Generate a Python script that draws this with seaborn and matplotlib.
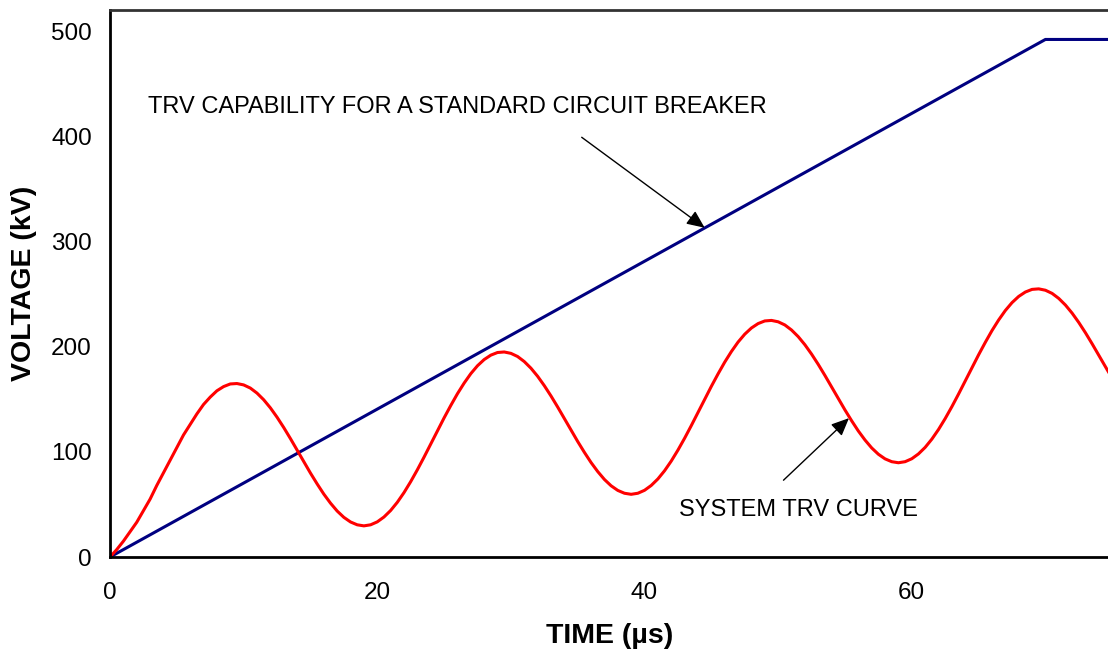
import matplotlib
matplotlib.use("Agg")
import matplotlib.pyplot as plt
import seaborn as sns
import pandas as pd

time_us = [i * 0.5 for i in range(151)]
system_trv_kv = [
    # 0 .. 19.5 µs
    0, 7, 15, 24, 33, 44, 55, 68, 80, 92,
    104, 116, 126, 136, 145, 152, 158, 162, 164.5, 164.9,
    163.6, 160.6, 155.8, 149.5, 141.8, 132.9, 123.1, 112.6, 101.7, 90.7,
    79.8, 69.5, 59.8, 51.2, 43.7, 37.7, 33.3, 30.6, 29.6, 30.6,
    # 20 .. 39.5 µs
    33.4, 38.0, 44.2, 52.0, 61.2, 71.6, 82.9, 94.9, 107.3, 119.8,
    132.2, 144.0, 155.2, 165.3, 174.3, 181.8, 187.7, 191.9, 194.4, 194.9,
    193.6, 190.6, 185.8, 179.5, 171.8, 162.9, 153.1, 142.6, 131.7, 120.7,
    109.8, 99.5, 89.8, 81.2, 73.7, 67.7, 63.3, 60.6, 59.6, 60.6,
    # 40 .. 59.5 µs
    63.4, 68.0, 74.2, 82.0, 91.2, 101.6, 112.9, 124.9, 137.3, 149.8,
    162.2, 174.0, 185.2, 195.3, 204.3, 211.8, 217.7, 221.9, 224.4, 224.9,
    223.6, 220.6, 215.8, 209.5, 201.8, 192.9, 183.1, 172.6, 161.7, 150.7,
    139.8, 129.5, 119.8, 111.2, 103.7, 97.7, 93.3, 90.6, 89.6, 90.6,
    # 60 .. 75 µs
    93.4, 98.0, 104.2, 112.0, 121.2, 131.6, 142.9, 154.9, 167.3, 179.8,
    192.2, 204.0, 215.2, 225.3, 234.3, 241.8, 247.7, 251.9, 254.4, 254.9,
    253.6, 250.6, 245.8, 239.5, 231.8, 222.9, 213.1, 202.6, 191.7, 180.7,
    169.8,
]
capability_time_us = [0, 70, 75]
capability_kv = [0, 492, 492]

x_ticks = [0, 20, 40, 60]
y_ticks = [0, 100, 200, 300, 400, 500]
x_label = "TIME (µs)"
y_label = "VOLTAGE (kV)"
capability_text = "TRV CAPABILITY FOR A STANDARD CIRCUIT BREAKER"
system_text = "SYSTEM TRV CURVE"

sns.set_theme(style="white")
plt.rcParams["font.family"] = ["Liberation Sans", "DejaVu Sans"]

df_sys = pd.DataFrame({"t": time_us, "v": system_trv_kv})
df_cap = pd.DataFrame({"t": capability_time_us, "v": capability_kv})

fig = plt.figure(figsize=(11.08, 6.58), dpi=100)
ax = fig.add_axes([110 / 1108, 101 / 658, 1 - 110 / 1108 + 0.002, (557 - 10) / 658])

sns.lineplot(data=df_cap, x="t", y="v", ax=ax, color="#000080", linewidth=2.2,
             estimator=None, sort=False)
sns.lineplot(data=df_sys, x="t", y="v", ax=ax, color="#ff0000", linewidth=2.2,
             estimator=None, sort=False)

ax.set_xlim(0, 74.85)
ax.set_ylim(0, 520)
ax.set_xticks(x_ticks)
ax.set_yticks(y_ticks)
ax.tick_params(axis="both", direction="out", length=5, width=1.8, color="black",
               labelsize=17.5, labelcolor="black")
ax.tick_params(axis="y", pad=8)
ax.tick_params(axis="x", pad=13)

for side in ["left", "bottom"]:
    ax.spines[side].set_color("black")
    ax.spines[side].set_linewidth(2.0)
ax.spines["top"].set_color("#333333")
ax.spines["top"].set_linewidth(2.0)
ax.spines["right"].set_visible(False)

ax.set_xlabel(x_label, fontsize=20.5, fontweight="bold", color="black", labelpad=14)
ax.set_ylabel(y_label, fontsize=20.5, fontweight="bold", color="black", labelpad=10)

ax.annotate("", xy=(44.5, 313), xytext=(35.3, 399),
            arrowprops=dict(arrowstyle="-|>,head_length=0.9,head_width=0.4",
                            color="black", lw=1.0, shrinkA=0, shrinkB=0))
ax.text(2.85, 428, capability_text, fontsize=17, color="black", va="center", ha="left")

ax.annotate("", xy=(55.3, 132), xytext=(50.4, 73),
            arrowprops=dict(arrowstyle="-|>,head_length=0.9,head_width=0.4",
                            color="black", lw=1.0, shrinkA=0, shrinkB=0))
ax.text(42.6, 44.5, system_text, fontsize=17, color="black", va="center", ha="left")

fig.savefig("out.png", dpi=100)
